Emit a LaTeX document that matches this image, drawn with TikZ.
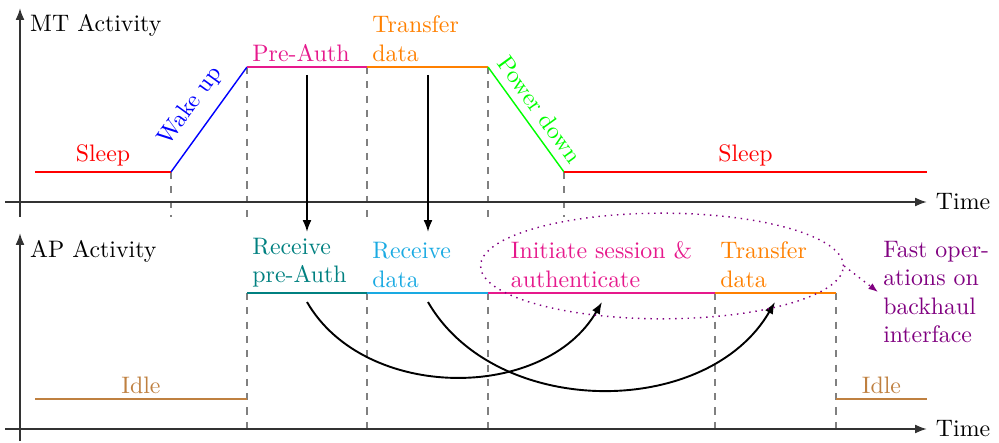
\documentclass[tikz,border=0pt]{standalone}
\usetikzlibrary{arrows.meta, positioning, shapes.geometric}
\definecolor{authPink}{HTML}{E6198C}
\definecolor{dataCyan}{HTML}{1AAAE2}
\begin{document}
\begin{tikzpicture}[x=0.1474cm, y=0.1474cm,
    ax/.style={-{Latex[length=5pt]}, thick, black!80},
    lvl/.style={semithick},
    guide/.style={dashed, semithick, gray},
    ar/.style={-{Latex[length=5pt]}, thick},
    lab/.style={inner sep=2pt, align=left}]
    \useasboundingbox (0,0) rectangle (99.9,44.2);
    % guides
    \foreach \x in {17.1, 56.4} \draw[guide] (\x,27) -- (\x,22.5);
    \foreach \x in {24.7, 36.7, 48.8} \draw[guide] (\x,37.5) -- (\x,22.5);
    \foreach \x in {24.7, 36.7, 48.8, 71.5, 83.6} \draw[guide] (\x,14.9) -- (\x,1.3);
    % axes
    \draw[ax] (2,22.5) -- (2,43.4);
    \draw[ax] (0.5,24) -- (92.7,24) node[right, black] (time1) {Time};
    \draw[ax] (2,0.1) -- (2,20.9);
    \draw[ax] (0.5,1.3) -- (92.7,1.3) node[right, black] (time2) {Time};
    \node[lab, anchor=base west] (mt) at (2.5,41.0) {MT Activity};
    \node[lab, anchor=base west] (ap) at (2.5,18.4) {AP Activity};
    % MT activity
    \draw[lvl, red] (3.5,27) -- node[lab, above] {Sleep} (17.1,27);
    \draw[lvl, blue] (17.1,27) -- node[above=1.5pt, sloped] {Wake up} (24.7,37.5);
    \draw[lvl, authPink] (24.7,37.5) node[lab, above right] {Pre-Auth} -- (36.7,37.5);
    \draw[lvl, orange] (36.7,37.5) node[lab, above right] {Transfer\\data} -- (48.8,37.5);
    \draw[lvl, green] (48.8,37.5) -- node[above, sloped] {Power down} (56.4,27);
    \draw[lvl, red] (56.4,27) -- node[lab, above] {Sleep} (92.7,27);
    % AP activity
    \draw[lvl, brown] (3.5,4.3) -- node[lab, above] {Idle} (24.7,4.3);
    \draw[lvl, teal] (24.7,14.9) node[lab, above right] {Receive\\pre-Auth} -- (36.7,14.9);
    \draw[lvl, dataCyan] (36.7,14.9) node[lab, above right] {Receive\\data} -- (48.8,14.9);
    \draw[lvl, authPink] (48.8,14.9) -- node[lab, above] {Initiate session \&\\authenticate} (71.5,14.9);
    \draw[lvl, orange] (71.5,14.9) node[lab, above right] {Transfer\\data} -- (83.6,14.9);
    \draw[lvl, brown] (83.6,4.3) -- node[lab, above] {Idle} (92.7,4.3);
    % arrows
    \coordinate (mtPre) at (30.7,36.7); \coordinate (apPre) at (30.7,21.0);
    \coordinate (mtDat) at (42.8,36.7); \coordinate (apDat) at (42.8,21.0);
    \draw[ar] (mtPre) -- (apPre); \draw[ar] (mtDat) -- (apDat);
    \coordinate (rxPre) at (30.7,14.0); \coordinate (rxDat) at (42.8,14.0);
    \coordinate (ssn) at (60.2,14.0); \coordinate (txd) at (77.5,14.0);
    \draw[ar] (rxPre) to[out=-60, in=-120] (ssn);
    \draw[ar] (rxDat) to[out=-60, in=-120] (txd);
    % backhaul
    \node[ellipse, draw=violet, dotted, semithick, inner sep=0pt,
      minimum width=152.2pt, minimum height=44.3pt] (bh) at (66.2,17.6) {};
    \node[lab, violet, anchor=west] (fast) at (87.8,15.0) {Fast oper-\\ations on\\backhaul\\interface};
    \draw[violet, dotted, semithick, -{Latex[length=4pt]}] (bh.east) -- (fast.west);
\end{tikzpicture}
\end{document}
